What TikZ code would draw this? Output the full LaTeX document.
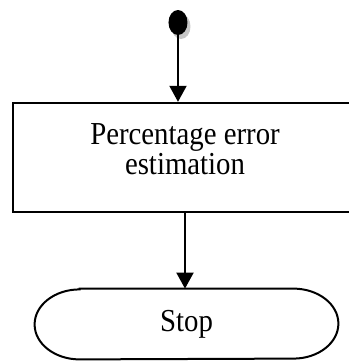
\documentclass[tikz,border=0pt]{standalone}
\usepackage{fontspec}
\setmainfont{Liberation Serif}[FakeStretch=0.9]
\usetikzlibrary{arrows.meta,shapes.geometric,shadows}
\tikzset{
    flow/.style = {
        -{Triangle[length=8pt, width=8.5pt]},
        line width=1pt,
        },
    start dot/.style = {
        ellipse,
        fill = black,
        minimum width=9.5pt,
        minimum height=12.5pt,
        inner sep=0pt,
        drop shadow = {shadow xshift=1.5pt, shadow yshift=-2pt, fill=gray!45, opacity=1},
        },
    process/.style = {
        draw,
        line width=1.2pt,
        minimum width=172pt,
        minimum height=54.5pt,
        align=center,
        text depth=8pt,
        },
    terminal/.style = {
        minimum width=106.5pt,
        minimum height=35pt,
        inner sep=0pt,
        },
}

\begin{document}
\begin{tikzpicture}[x=0.5pt, y=-0.5pt, font=\fontsize{16}{15}\selectfont]
    \useasboundingbox (0,0) rectangle (349,361);
    \node [start dot] (start) at (178,22.5) {};
    \node [process] (est) at (185,157.5) {Percentage error\\estimation};
    \node [terminal] (stop) at (186.5,324) {Stop};
    % rounded ends of the terminal
    \draw [line width=1pt] (stop.north west) -- (stop.north east)
        arc [start angle=90, end angle=-90, x radius=22.5pt, y radius=17.5pt]
        -- (stop.south west)
        arc [start angle=270, end angle=90, x radius=22.5pt, y radius=17.5pt] -- cycle;
    \draw [flow] (start) -- (start |- est.north);
    \draw [flow] (est.south) -- (est.south |- stop.north);
\end{tikzpicture}
\end{document}
